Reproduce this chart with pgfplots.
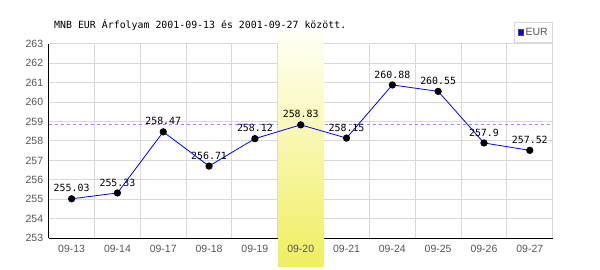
\documentclass[border=0pt]{standalone}
\usepackage{fontspec}
\setmainfont{DejaVu Sans Mono}
\newfontfamily\tickfont{Liberation Sans}
\usepackage{pgfplots}
\pgfplotsset{compat=1.18}
\definecolor{gridc}{HTML}{D8D8D8}
\definecolor{tickc}{HTML}{555555}
\definecolor{avgc}{HTML}{8C8CFF}
\definecolor{bandtop}{HTML}{FFFFF6}
\definecolor{bandbot}{HTML}{F0EE60}
\begin{document}
\begin{tikzpicture}[x=1pt,y=1pt]
\node[anchor=west,font=\fontsize{9.9}{11}\selectfont,inner sep=0] at (54,245) {MNB EUR Árfolyam 2001-09-13 és 2001-09-27 között.};
\begin{axis}[
  at={(48.7pt,31.7pt)}, anchor=south west, scale only axis,
  width=504pt, height=194.6pt,
  xmin=-0.5, xmax=10.5, ymin=253, ymax=263,
  clip=false,
  axis x line*=bottom, axis y line*=left,
  axis line style={black,line width=1.5pt,-},
  xtick={0,...,10},
  xticklabels={09-13,09-14,09-17,09-18,09-19,{},09-21,09-24,09-25,09-26,09-27},
  minor xtick={-0.5,0.5,...,10.5},
  ytick={253,...,263},
  xmajorgrids=false, xminorgrids=true, ymajorgrids=true,
  grid style={gridc,line width=1pt},
  minor grid style={gridc,line width=1pt},
  major tick length=0pt, minor tick length=0pt,
  tick label style={font=\tickfont\fontsize{10.5}{12}\selectfont,text=tickc},
  /pgf/number format/assume math mode=true,
  yticklabel style={xshift=-2pt},
  xticklabel style={yshift=-3pt},
  legend style={at={(1,1.1115)},anchor=north east,draw=gridc,line width=1pt,fill=white,
    font=\tickfont\fontsize{10.5}{12}\selectfont,text=tickc,inner xsep=3pt,inner ysep=4.5pt,
    nodes={inner xsep=1.5pt,inner ysep=1pt}},
]
\addplot[avgc,dash pattern=on 3pt off 3pt,line width=0.8pt,forget plot]
  coordinates {(-0.5,258.86) (10.5,258.86)};
\addplot[draw=none, top color=bandtop, bottom color=bandbot, forget plot]
  coordinates {(4.5,251.53) (4.5,263.62) (5.5,263.62) (5.5,251.53)} -- cycle;
\node[anchor=north,yshift=-3pt,font=\tickfont\fontsize{10.5}{12}\selectfont,text=tickc] at (axis cs:5,253) {09-20};
\addplot[blue,line width=0.8pt,mark=*,mark size=3.2pt,mark options={black,fill=black},
  nodes near coords, point meta=explicit symbolic,
  every node near coord/.style={font=\fontsize{9.9}{11}\selectfont,text=black,anchor=south,yshift=3pt},
  legend image code/.code={\draw[black!70,fill=blue,line width=0.6pt] (0pt,-2.8pt) rectangle (5.6pt,2.8pt);}]
  coordinates {
  (0,255.03) [255.03]
  (1,255.33) [255.33]
  (2,258.47) [258.47]
  (3,256.71) [256.71]
  (4,258.12) [258.12]
  (5,258.83) [258.83]
  (6,258.15) [258.15]
  (7,260.88) [260.88]
  (8,260.55) [260.55]
  (9,257.9) [257.9]
  (10,257.52) [257.52]
  };
\addlegendentry{EUR}
\end{axis}
\pgfresetboundingbox
\path[use as bounding box] (0,0) rectangle (600,270);
\end{tikzpicture}
\end{document}
